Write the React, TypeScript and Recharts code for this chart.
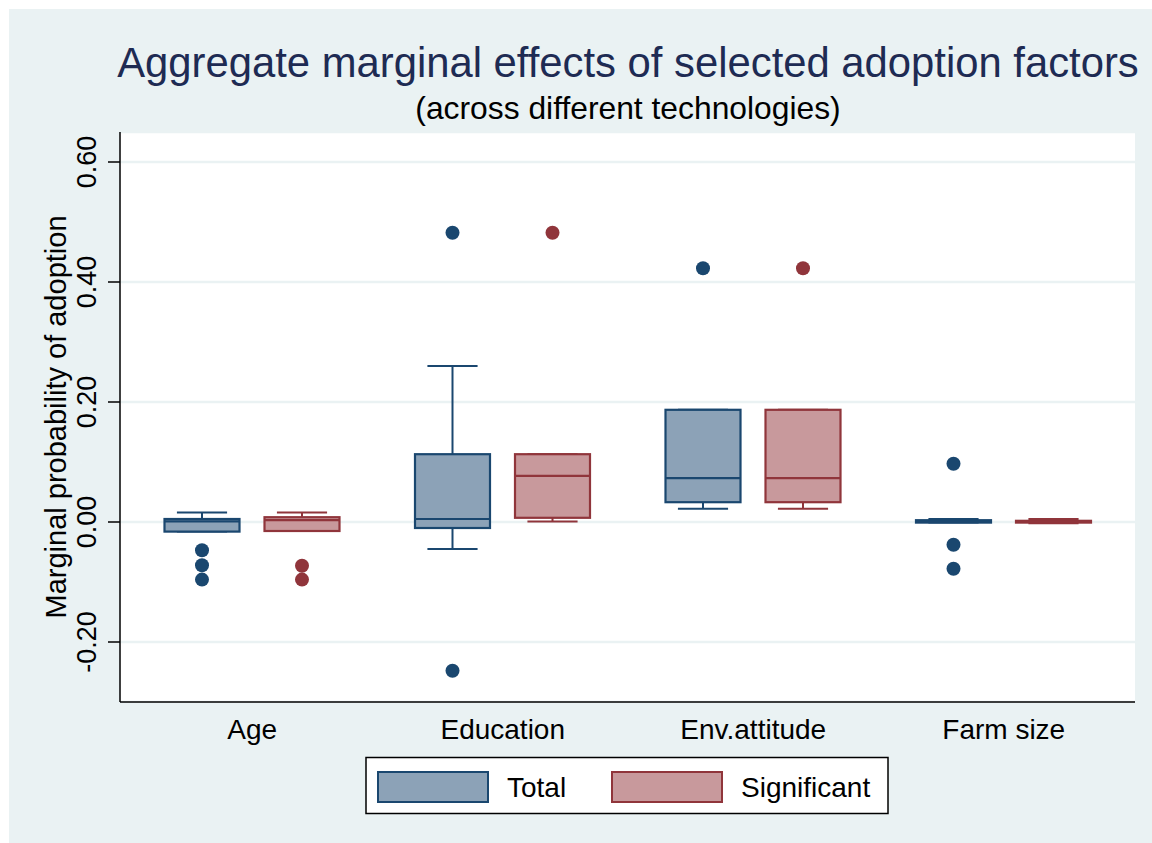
import { ComposedChart, Bar, XAxis, YAxis, CartesianGrid } from "recharts";

const categories = ["Age", "Education", "Env.attitude", "Farm size"];
const seriesNames = ["Total", "Significant"];

// box stats, one value per category
const totalLow = [-0.016, -0.045, 0.022, -0.001];
const totalQ1 = [-0.016, -0.01, 0.033, -0.001];
const totalMedian = [0.001, 0.005, 0.073, 0.001];
const totalQ3 = [0.005, 0.113, 0.187, 0.003];
const totalHigh = [0.016, 0.26, 0.187, 0.005];
const totalOutliers = [
  [-0.047, -0.072, -0.096],
  [0.482, -0.248],
  [0.423],
  [0.097, -0.038, -0.078],
];

const sigLow = [-0.015, 0.001, 0.022, -0.002];
const sigQ1 = [-0.015, 0.007, 0.033, -0.001];
const sigMedian = [0.003, 0.077, 0.073, 0.001];
const sigQ3 = [0.008, 0.113, 0.187, 0.002];
const sigHigh = [0.016, 0.113, 0.187, 0.005];
const sigOutliers = [[-0.073, -0.096], [0.482], [0.423], []];

const yTicks = [-0.2, 0, 0.2, 0.4, 0.6];

const title = "Aggregate marginal effects of selected adoption factors";
const subtitle = "(across different technologies)";
const yTitle = "Marginal probability of adoption";

const FONT = "'Liberation Sans', Arial, sans-serif";
const BG = "#eaf2f3";
const colors = [
  { stroke: "#1a476f", fill: "#8ca2b7" },
  { stroke: "#90353b", fill: "#c8999c" },
];

function stats(lo: number[], q1: number[], med: number[], q3: number[], hi: number[], out: number[][], i: number) {
  const all = [lo[i], hi[i], ...out[i]];
  return {
    low: lo[i],
    q1: q1[i],
    median: med[i],
    q3: q3[i],
    high: hi[i],
    outliers: out[i],
    range: [Math.min(...all), Math.max(...all)],
  };
}

const data = categories.map((c, i) => ({
  category: c,
  total: stats(totalLow, totalQ1, totalMedian, totalQ3, totalHigh, totalOutliers, i),
  significant: stats(sigLow, sigQ1, sigMedian, sigQ3, sigHigh, sigOutliers, i),
}));

function makeBox(key: "total" | "significant", stroke: string, fill: string) {
  return (props: any) => {
    const { x, y, width, height, payload } = props;
    const s = payload[key];
    const [lo, hi] = s.range;
    const yLo = y + height;
    const yHi = y;
    const toY = (v: number) => yLo + ((v - lo) * (yHi - yLo)) / (hi - lo);
    const cx = x + width / 2;
    const cap = width * 0.33;
    return (
      <g>
        <line x1={cx} x2={cx} y1={toY(s.high)} y2={toY(s.q3)} stroke={stroke} strokeWidth={2} />
        <line x1={cx} x2={cx} y1={toY(s.q1)} y2={toY(s.low)} stroke={stroke} strokeWidth={2} />
        <line x1={cx - cap} x2={cx + cap} y1={toY(s.high)} y2={toY(s.high)} stroke={stroke} strokeWidth={2} />
        <line x1={cx - cap} x2={cx + cap} y1={toY(s.low)} y2={toY(s.low)} stroke={stroke} strokeWidth={2} />
        <rect
          x={x + 0.5}
          y={toY(s.q3)}
          width={width - 1}
          height={toY(s.q1) - toY(s.q3)}
          fill={fill}
          stroke={stroke}
          strokeWidth={2.2}
        />
        <line x1={x + 0.5} x2={x + width - 0.5} y1={toY(s.median)} y2={toY(s.median)} stroke={stroke} strokeWidth={2.2} />
        {s.outliers.map((v: number, j: number) => (
          <circle key={j} cx={cx} cy={toY(v)} r={7} fill={stroke} />
        ))}
      </g>
    );
  };
}

const YTick = (props: any) => {
  const { x, y, payload } = props;
  const tx = x - 2;
  return (
    <text
      x={tx}
      y={y}
      transform={`rotate(-90, ${tx}, ${y})`}
      textAnchor="middle"
      fontSize={27}
      fontFamily={FONT}
      fill="#000"
    >
      {Number(payload.value).toFixed(2)}
    </text>
  );
};

const XTick = (props: any) => {
  const { x, y, payload } = props;
  return (
    <text x={x} y={y} dy={37} textAnchor="middle" fontSize={28} fontFamily={FONT} fill="#000">
      {payload.value}
    </text>
  );
};

const YLabel = (props: any) => {
  const vb = props.viewBox || { x: 0, y: 132, width: 120, height: 570 };
  const lx = vb.x + 66;
  const ly = vb.y + vb.height / 2;
  return (
    <text
      x={lx}
      y={ly}
      transform={`rotate(-90, ${lx}, ${ly})`}
      textAnchor="middle"
      fontSize={29}
      fontFamily={FONT}
      fill="#000"
    >
      {yTitle}
    </text>
  );
};

export default function App() {
  return (
    <div style={{ position: "absolute", left: 0, top: 0, width: 1152, height: 843, background: "#fff" }}>
      <div style={{ position: "absolute", left: 9, top: 9, width: 1143, height: 834, background: BG }} />
      <div style={{ position: "absolute", left: 0, top: 0 }}>
        <ComposedChart
          width={1152}
          height={843}
          data={data}
          margin={{ top: 132, right: 17, bottom: 91, left: 0 }}
          barSize={76}
          barGap={24}
        >
          <CartesianGrid vertical={false} fill="#ffffff" stroke={BG} strokeWidth={2.5} />
          <XAxis
            dataKey="category"
            height={50}
            padding={{ left: 7, right: 6 }}
            tickLine={false}
            tickSize={0}
            tickMargin={0}
            tick={<XTick />}
            axisLine={{ stroke: "#000", strokeWidth: 1.5 }}
          />
          <YAxis
            type="number"
            width={120}
            domain={[-0.3, 0.65]}
            ticks={yTicks}
            allowDataOverflow
            tickSize={12}
            tickMargin={10}
            tick={<YTick />}
            tickLine={{ stroke: "#000", strokeWidth: 1.5 }}
            axisLine={{ stroke: "#000", strokeWidth: 1.5 }}
            label={(p: any) => <YLabel {...p} />}
          />
          <Bar
            dataKey={(d: any) => d.total.range}
            name={seriesNames[0]}
            shape={makeBox("total", colors[0].stroke, colors[0].fill)}
            isAnimationActive={false}
          />
          <Bar
            dataKey={(d: any) => d.significant.range}
            name={seriesNames[1]}
            shape={makeBox("significant", colors[1].stroke, colors[1].fill)}
            isAnimationActive={false}
          />
        </ComposedChart>
      </div>
      <svg
        width={1152}
        height={843}
        style={{ position: "absolute", left: 0, top: 0, pointerEvents: "none" }}
      >
        <text x={628} y={77} textAnchor="middle" fontSize={41.8} fontFamily={FONT} fill="#1e2b53">
          {title}
        </text>
        <text x={628} y={119} textAnchor="middle" fontSize={31.8} fontFamily={FONT} fill="#000">
          {subtitle}
        </text>
        <rect x={366} y={757.5} width={522} height={56} fill="#fff" stroke="#000" strokeWidth={1.5} />
        <rect x={378} y={772} width={110} height={30} fill={colors[0].fill} stroke={colors[0].stroke} strokeWidth={2} />
        <text x={507} y={797} fontSize={28} fontFamily={FONT} fill="#000">
          {seriesNames[0]}
        </text>
        <rect x={612} y={772} width={110} height={30} fill={colors[1].fill} stroke={colors[1].stroke} strokeWidth={2} />
        <text x={741} y={797} fontSize={28} fontFamily={FONT} fill="#000">
          {seriesNames[1]}
        </text>
      </svg>
    </div>
  );
}
